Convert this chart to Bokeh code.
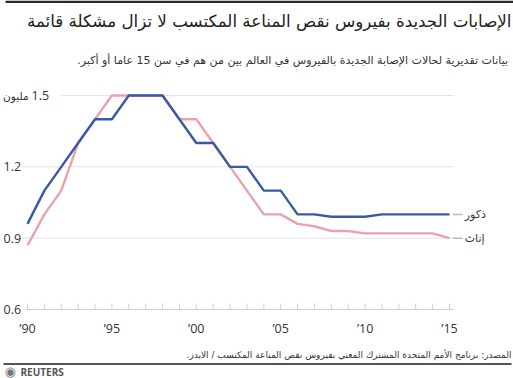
from bokeh.plotting import figure
from bokeh.models import Range1d, Label, BoxAnnotation
from bokeh.core.properties import value
from bokeh.embed import file_html
from bokeh.resources import INLINE

# ---------------- data ----------------
YEARS = list(range(1990, 2016))
MALE = [0.96, 1.1, 1.2, 1.3, 1.4, 1.4, 1.5, 1.5, 1.5, 1.4, 1.3, 1.3, 1.2,
        1.2, 1.1, 1.1, 1.0, 1.0, 0.99, 0.99, 0.99, 1.0, 1.0, 1.0, 1.0, 1.0]
FEMALE = [0.87, 1.0, 1.1, 1.3, 1.4, 1.5, 1.5, 1.5, 1.5, 1.4, 1.4, 1.3, 1.2,
          1.1, 1.0, 1.0, 0.96, 0.95, 0.93, 0.93, 0.92, 0.92, 0.92, 0.92, 0.92, 0.90]
X_TICKS = [1990, 1995, 2000, 2005, 2010, 2015]
X_TICK_LABELS = ["’90", "’95", "’00", "’05", "’10", "’15"]
Y_TICKS = [1.5, 1.2, 0.9, 0.6]
Y_TICK_LABELS = ["1.5", "1.2", "0.9", "0.6"]
Y_UNIT = "مليون"
SERIES_NAMES = ["ذكور", "إناث"]

TITLE = "الإصابات الجديدة بفيروس نقص المناعة المكتسب لا تزال مشكلة قائمة"
SUBTITLE = "\u200fبيانات تقديرية لحالات الإصابة الجديدة بالفيروس في العالم بين من هم في سن 15 عاما  أو أكبر.\u200f"
SOURCE = "\u200fالمصدر: برنامج الأمم المتحدة المشترك المعني بفيروس نقص المناعة المكتسب / الايدز.\u200f"

# ---------------- layout ----------------
W, H = 513, 378
PPY = 16.88           # pixels per year
X_LEFT_PX = 27        # pixel of 1990
PPU = 214 / 0.9       # pixels per unit
Y_BOTTOM_PX = 69      # pixel (from bottom) of 0.6

xs = YEARS[0] - X_LEFT_PX / PPY
ys = 0.6 - Y_BOTTOM_PX / PPU

BLUE = "#3a58a8"
PINK = "#e9a3ac"
GRID = "#e3e3e3"
AXIS = "#cfcfcf"
TXT = "#333333"
ARABIC = "DejaVu Sans"
LATIN = "Open Sans"

p = figure(width=W, height=H, output_backend="svg", toolbar_location=None,
           x_range=Range1d(xs, xs + W / PPY), y_range=Range1d(ys, ys + H / PPU),
           x_axis_type=None, y_axis_type=None, min_border=0,
           outline_line_color=None, background_fill_color="white",
           border_fill_color="white")
p.xgrid.visible = False
p.ygrid.visible = False

# grid lines
grid_x0 = [YEARS[0] + 2.0, YEARS[0] - 0.42, YEARS[0] - 0.42]
x_end = YEARS[-1] + 0.25
p.segment(x0=grid_x0, y0=Y_TICKS[:3], x1=[x_end] * 3, y1=Y_TICKS[:3],
          line_color=GRID, line_width=1)

# bottom axis + ticks
p.segment(x0=[YEARS[0] - 0.12], y0=[Y_TICKS[-1]], x1=[x_end], y1=[Y_TICKS[-1]],
          line_color=AXIS, line_width=1)
tick_len = 6 / PPU
p.segment(x0=YEARS, y0=[Y_TICKS[-1]] * len(YEARS), x1=YEARS,
          y1=[Y_TICKS[-1] + tick_len] * len(YEARS), line_color=AXIS, line_width=1)

# series
p.line(YEARS, FEMALE, line_color=PINK, line_width=2.4)
p.line(YEARS, MALE, line_color=BLUE, line_width=2.4)

# end labels
last = [MALE[-1], FEMALE[-1]]
p.segment(x0=[YEARS[-1] + 0.2] * 2, y0=last, x1=[YEARS[-1] + 0.78] * 2, y1=last,
          line_color="#bbbbbb", line_width=1.5)
p.text(x=[YEARS[-1] + 0.9] * 2, y=last, text=SERIES_NAMES,
       text_font=value(ARABIC), text_font_size="11px", text_color=TXT,
       text_align="left", text_baseline="middle")

# x tick labels
p.text(x=X_TICKS, y=[Y_TICKS[-1]] * len(X_TICKS), text=X_TICK_LABELS,
       y_offset=19, text_font=value(LATIN), text_font_size="12.5px",
       text_color=TXT, text_align="center", text_baseline="middle")

# y tick labels (top one is preceded by the unit word)
y_label_x = [31, 3, 3, 3]
for yv, lab, lx in zip(Y_TICKS, Y_TICK_LABELS, y_label_x):
    p.add_layout(Label(x=lx, y=yv, x_units="screen", y_units="data", text=lab,
                       text_font=LATIN, text_font_size="12.5px", text_color=TXT,
                       text_align="left", text_baseline="middle"))
p.add_layout(Label(x=28, y=Y_TICKS[0], x_units="screen", y_units="data", text=Y_UNIT,
                   text_font=ARABIC, text_font_size="10.5px", text_color=TXT,
                   text_align="right", text_baseline="middle"))

# title, subtitle, source
p.add_layout(Label(x=511, y=H - 20, x_units="screen", y_units="screen", text=TITLE,
                   text_font=ARABIC, text_font_size="16.7px", text_color="#222222",
                   text_align="right", text_baseline="middle"))
p.add_layout(Label(x=511, y=H - 60, x_units="screen", y_units="screen", text=SUBTITLE,
                   text_font=ARABIC, text_font_size="11px", text_color=TXT,
                   text_align="right", text_baseline="middle"))
p.add_layout(Label(x=511, y=H - 354, x_units="screen", y_units="screen", text=SOURCE,
                   text_font=ARABIC, text_font_size="9px", text_color=TXT,
                   text_align="right", text_baseline="middle"))

# rules
p.add_layout(BoxAnnotation(left=5, right=W, top=H, bottom=H - 2.5,
                           left_units="screen", right_units="screen",
                           top_units="screen", bottom_units="screen",
                           fill_color="#2a2a2a", fill_alpha=1, line_color=None))
p.add_layout(BoxAnnotation(left=3, right=511, top=H - 362.5, bottom=H - 364.5,
                           left_units="screen", right_units="screen",
                           top_units="screen", bottom_units="screen",
                           fill_color="#555555", fill_alpha=1, line_color=None))

# Reuters logo
p.add_layout(Label(x=4, y=H - 371, x_units="screen", y_units="screen", text="◉",
                   text_font=ARABIC, text_font_size="13px", text_color="#777777",
                   text_align="left", text_baseline="middle"))
p.add_layout(Label(x=20, y=H - 371, x_units="screen", y_units="screen", text="REUTERS",
                   text_font=LATIN, text_font_size="10px", text_font_style="bold",
                   text_color="#555555", text_align="left", text_baseline="middle"))

open("out.html", "w").write(file_html(p, INLINE))
